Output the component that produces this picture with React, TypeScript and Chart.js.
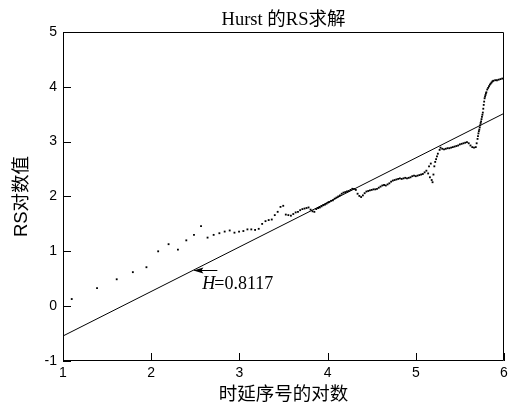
import React, { useEffect, useRef } from "react";
import { Chart, registerables } from "chart.js";

Chart.register(...registerables);

const chartTitle = "Hurst 的RS求解";
const xAxisTitle = "时延序号的对数";
const yAxisTitle = "RS对数值";
const annotationText = "=0.8117";
const annotationItalic = "H";

const xTicks = [1, 2, 3, 4, 5, 6];
const yTicks = [-1, 0, 1, 2, 3, 4, 5];

// log of lag vs log of R/S
const logLag = [
  1.099, 1.386, 1.609, 1.792, 1.946, 2.079, 2.197, 2.303, 2.398, 2.485, 2.565, 2.639, 2.708, 2.773, 2.833,
  2.89, 2.944, 2.996, 3.045, 3.091, 3.135, 3.178, 3.219, 3.258, 3.296, 3.332, 3.367, 3.401, 3.434, 3.466,
  3.497, 3.526, 3.555, 3.584, 3.611, 3.638, 3.664, 3.689, 3.714, 3.738, 3.761, 3.784, 3.807, 3.829, 3.85,
  3.871, 3.892, 3.912, 3.932, 3.951, 3.97, 3.989, 4.007,
  4.02, 4.04, 4.06, 4.08, 4.1, 4.12, 4.14, 4.16, 4.18, 4.2, 4.22, 4.24, 4.26, 4.28, 4.3, 4.32, 4.34, 4.36,
  4.38, 4.4, 4.42, 4.44, 4.46, 4.48, 4.5, 4.52, 4.54, 4.56, 4.58, 4.6, 4.62, 4.64, 4.66, 4.68, 4.7, 4.72,
  4.74, 4.76, 4.78, 4.8, 4.82, 4.84, 4.86, 4.88, 4.9, 4.92, 4.94, 4.96, 4.98, 5.0, 5.02, 5.04, 5.06, 5.08,
  5.1, 5.12, 5.14, 5.15, 5.16, 5.17, 5.18, 5.19, 5.2, 5.21, 5.22, 5.23, 5.24, 5.25, 5.27, 5.28, 5.3, 5.32,
  5.34, 5.36, 5.38, 5.4, 5.42, 5.44, 5.46, 5.48, 5.5, 5.52, 5.54, 5.56, 5.58, 5.6, 5.62, 5.64, 5.66, 5.68,
  5.69, 5.7, 5.705, 5.71, 5.715, 5.72, 5.725, 5.73, 5.735, 5.74, 5.745, 5.75, 5.755, 5.76, 5.765, 5.77,
  5.775, 5.78, 5.785, 5.79, 5.795, 5.8, 5.81, 5.82, 5.83, 5.84, 5.85, 5.86, 5.87, 5.88, 5.9, 5.92, 5.94,
  5.96, 5.98,
];
const logRS = [
  0.13, 0.33, 0.49, 0.62, 0.71, 1.0, 1.13, 1.03, 1.2, 1.3, 1.46, 1.25, 1.3, 1.33, 1.36,
  1.38, 1.34, 1.36, 1.37, 1.4, 1.4, 1.39, 1.41, 1.5, 1.55, 1.57, 1.58, 1.66, 1.72, 1.81,
  1.83, 1.67, 1.66, 1.65, 1.68, 1.71, 1.72, 1.75, 1.77, 1.78, 1.79, 1.8, 1.76, 1.73, 1.72,
  1.77, 1.79, 1.8, 1.82, 1.84, 1.85, 1.87, 1.89,
  1.9, 1.92, 1.93, 1.96, 1.98, 2.0, 2.02, 2.05, 2.07, 2.08, 2.09, 2.1, 2.12, 2.14, 2.14, 2.12, 2.05, 2.01,
  1.99, 2.02, 2.06, 2.09, 2.1, 2.11, 2.12, 2.13, 2.13, 2.14, 2.16, 2.18, 2.2, 2.21, 2.2, 2.22, 2.24, 2.27,
  2.29, 2.3, 2.31, 2.32, 2.33, 2.32, 2.33, 2.34, 2.33, 2.34, 2.35, 2.37, 2.38, 2.37, 2.38, 2.39, 2.4, 2.41,
  2.44, 2.47, 2.42, 2.55, 2.35, 2.6, 2.3, 2.26, 2.4, 2.55, 2.63, 2.68, 2.73, 2.78, 2.85, 2.89, 2.87, 2.86,
  2.87, 2.88, 2.88, 2.89, 2.9, 2.91, 2.92, 2.93, 2.95, 2.96, 2.97, 2.98, 2.99, 2.97, 2.93, 2.9, 2.89, 2.9,
  2.97, 3.05, 3.1, 3.15, 3.19, 3.22, 3.26, 3.3, 3.34, 3.37, 3.41, 3.45, 3.49, 3.53, 3.6, 3.67,
  3.73, 3.79, 3.82, 3.85, 3.88, 3.9, 3.95, 3.98, 4.01, 4.04, 4.06, 4.08, 4.1, 4.11, 4.12, 4.12, 4.13,
  4.14, 4.15,
];

// fitted line endpoints (slope H = 0.8117)
const fitX = [1, 6];
const fitY = [-0.544, 3.515];

const framePlugin = {
  id: "frameAndAnnotation",
  afterDatasetsDraw(chart: any) {
    const { ctx, chartArea, scales } = chart;
    const { left, right, top, bottom } = chartArea;
    ctx.save();
    ctx.strokeStyle = "#000";
    ctx.lineWidth = 1;
    ctx.beginPath();
    ctx.rect(Math.round(left) + 0.5, Math.round(top) + 0.5, Math.round(right - left) - 1, Math.round(bottom - top) - 1);
    ctx.stroke();
    const tl = 8;
    ctx.beginPath();
    xTicks.forEach((v) => {
      const x = Math.round(scales.x.getPixelForValue(v)) + 0.5;
      ctx.moveTo(x, bottom);
      ctx.lineTo(x, bottom - tl);
    });
    yTicks.forEach((v) => {
      const y = Math.round(scales.y.getPixelForValue(v)) + 0.5;
      ctx.moveTo(left, y);
      ctx.lineTo(left + tl, y);
    });
    ctx.stroke();

    // annotation arrow
    const ax = scales.x.getPixelForValue(2.49);
    const ay = scales.y.getPixelForValue(0.66);
    const ax2 = scales.x.getPixelForValue(2.75);
    ctx.beginPath();
    ctx.moveTo(ax, Math.round(ay) + 0.5);
    ctx.lineTo(ax2, Math.round(ay) + 0.5);
    ctx.stroke();
    ctx.beginPath();
    ctx.moveTo(ax - 1, ay + 0.5);
    ctx.lineTo(ax + 9, ay - 2.5);
    ctx.lineTo(ax + 7, ay + 0.5);
    ctx.lineTo(ax + 9, ay + 3.5);
    ctx.closePath();
    ctx.fillStyle = "#000";
    ctx.fill();

    const tx = scales.x.getPixelForValue(2.58);
    const ty = scales.y.getPixelForValue(0.4);
    ctx.textBaseline = "middle";
    ctx.textAlign = "left";
    ctx.font = "italic 18px 'Liberation Serif', serif";
    ctx.fillText(annotationItalic, tx, ty);
    const w = ctx.measureText(annotationItalic).width;
    ctx.font = "18px 'Liberation Serif', serif";
    ctx.fillText(annotationText, tx + w - 1, ty);
    ctx.restore();
  },
};

export default function App() {
  const ref = useRef<HTMLCanvasElement>(null);
  useEffect(() => {
    const canvas = ref.current!;
    const points = logLag.map((x, i) => ({ x, y: logRS[i] }));
    const line = fitX.map((x, i) => ({ x, y: fitY[i] }));
    const tickFont = { family: "'Liberation Sans', Arial, sans-serif", size: 14 };
    const axisFont = { family: "'Liberation Sans', 'Noto Sans CJK SC', sans-serif", size: 18.5, lineHeight: 0.88 };
    const chart = new Chart(canvas, {
      type: "scatter",
      data: {
        datasets: [
          {
            data: points,
            pointRadius: 1.3,
            pointBackgroundColor: "#000",
            pointBorderWidth: 0,
            pointStyle: "rect",
            showLine: false,
          },
          {
            data: line,
            showLine: true,
            borderColor: "#000",
            borderWidth: 1,
            pointRadius: 0,
          },
        ],
      },
      options: {
        animation: false,
        responsive: false,
        maintainAspectRatio: false,
        events: [],
        layout: { padding: { left: 0, right: 1, top: 0, bottom: 0 } },
        plugins: {
          legend: { display: false },
          tooltip: { enabled: false },
          title: {
            display: true,
            fullSize: false,
            text: chartTitle,
            color: "#000",
            font: { family: "'Liberation Serif', 'Noto Sans CJK SC', serif", size: 18.5, weight: "normal", lineHeight: 1.1 },
            padding: { top: 10, bottom: 1.6 },
          },
        },
        scales: {
          x: {
            type: "linear",
            min: 1,
            max: 6,
            grid: { display: false, drawTicks: false },
            border: { display: false },
            ticks: {
              stepSize: 1,
              color: "#000",
              font: tickFont,
              padding: 4,
              maxRotation: 0,
              callback: (v: any) => String(v),
            },
            title: { display: true, text: xAxisTitle, color: "#000", font: axisFont, padding: { top: 0, bottom: 0 } },
            afterFit: (s: any) => {
              s.height = 42;
              s.paddingRight = 0;
              s.paddingLeft = 0;
            },
          },
          y: {
            type: "linear",
            min: -1,
            max: 5,
            grid: { display: false, drawTicks: false },
            border: { display: false },
            ticks: {
              stepSize: 1,
              color: "#000",
              font: tickFont,
              padding: 6,
              callback: (v: any) => String(v),
            },
            title: { display: true, text: yAxisTitle, color: "#000", font: axisFont, padding: { top: 14, bottom: 0 } },
            afterFit: (s: any) => {
              s.width = 63;
              s.paddingTop = 0;
              s.paddingBottom = 0;
            },
          },
        },
      },
      plugins: [framePlugin],
    });
    return () => chart.destroy();
  }, []);
  return (
    <div style={{ position: "fixed", left: 0, top: 0, width: 508, height: 403, background: "#fff" }}>
      <canvas ref={ref} width={508} height={403} style={{ display: "block", width: 508, height: 403 }} />
    </div>
  );
}
